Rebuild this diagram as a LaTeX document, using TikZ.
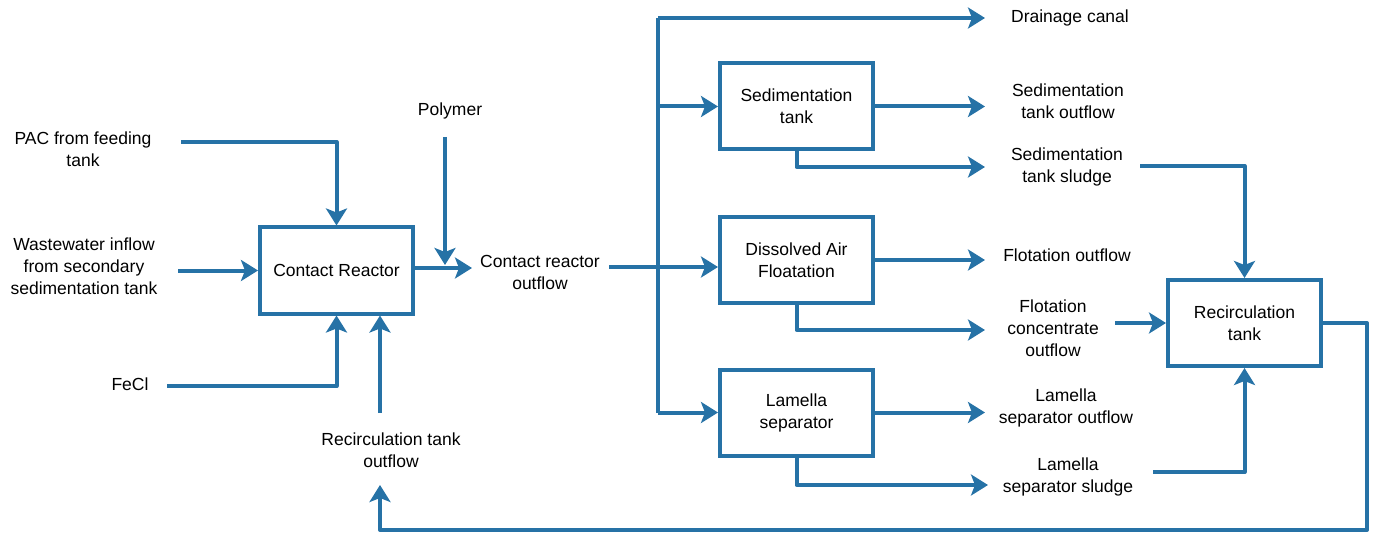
\documentclass[tikz,border=0pt]{standalone}
\usepackage{fontspec}
\setmainfont{Liberation Sans}
\usetikzlibrary{arrows.meta}
\definecolor{flow}{RGB}{38,114,166}
\begin{document}
\begin{tikzpicture}[x=1bp,y=-1bp,
  every node/.style={font=\fontsize{17.5bp}{22bp}\selectfont},
  lbl/.style={align=center,inner sep=0pt,text=black},
  procbox/.style={draw=flow,line width=4bp,fill=white,align=center,minimum width=153bp,minimum height=86bp,inner sep=2bp},
  pipe/.style={draw=flow,line width=4bp,line join=round},
  flowarrow/.style={pipe,-{Stealth[length=17bp,width=21bp,inset=4bp]}}
]
\useasboundingbox (0,0) rectangle (1375,535);

% boxes
\node[procbox] (cr) at (336.5,270.5) {Contact Reactor};
\node[procbox] (sed) at (796.5,106.5) {Sedimentation\\tank};
\node[procbox] (daf) at (796.5,260) {Dissolved Air\\Floatation};
\node[procbox] (lam) at (796.5,412.5) {Lamella\\separator};
\node[procbox] (rec) at (1244.5,323) {Recirculation\\tank};

% labels
\node[lbl] (pac) at (83,149) {PAC from feeding\\tank};
\node[lbl] (ww) at (84,266) {Wastewater inflow\\from secondary\\sedimentation tank};
\node[lbl] (fecl) at (130,384) {FeCl};
\node[lbl] (poly) at (450,111) {Polymer};
\node[lbl] (cro) at (540,272) {Contact reactor\\outflow};
\node[lbl] (rto) at (391,450) {Recirculation tank\\outflow};
\node[lbl] (drain) at (1070,18) {Drainage canal};
\node[lbl] (sto) at (1068,101) {Sedimentation\\tank outflow};
\node[lbl] (sts) at (1067,167) {Sedimentation\\tank sludge};
\node[lbl] (fo) at (1067,255) {Flotation outflow};
\node[lbl] (fco) at (1053,328) {Flotation\\concentrate\\outflow};
\node[lbl] (lso) at (1066,408) {Lamella\\separator outflow};
\node[lbl] (lss) at (1068,477) {Lamella\\separator sludge};

% coordinates for free ends
\coordinate (pacS) at (181,142);
\coordinate (wwS) at (178,270.5);
\coordinate (feS) at (167,386);
\coordinate (rtoS) at (380,413);
\coordinate (polyS) at (445,137);
\coordinate (polyE) at (445,265);
\coordinate (crE) at (472,268);
\coordinate (trS) at (609,267);
\coordinate (trTop) at (658,18);
\coordinate (trBot) at (658,412.5);
\coordinate (drainE) at (985,18);
\coordinate (stoE) at (985,106.5);
\coordinate (stsE) at (985,167);
\coordinate (foE) at (985,260);
\coordinate (fcoE) at (985,330);
\coordinate (lsoE) at (985,412.5);
\coordinate (lssE) at (988,485);
\coordinate (stsS) at (1140,166);
\coordinate (fcoS) at (1115,323);
\coordinate (lssS) at (1153,472);
\coordinate (recR) at (1367,323);
\coordinate (recB) at (1367,530);
\coordinate (retB) at (380,530);
\coordinate (rtoE) at (380,485);

% inputs to contact reactor
\draw[flowarrow] (pacS) -| (cr.north);
\draw[flowarrow] (wwS) -- (cr.west);
\draw[flowarrow] (feS) -| (cr.south);
\draw[flowarrow] (rtoS) -- (rtoS |- cr.south);
\draw[flowarrow] (polyS) -- (polyE);
\draw[flowarrow] (cr.east |- crE) -- (crE);

% distribution trunk
\draw[flowarrow] (trS) -- (trS -| daf.west);
\draw[pipe] (trBot) -- (trTop);
\draw[flowarrow] (trTop) -- (drainE);
\draw[flowarrow] (trTop |- sed.west) -- (sed.west);
\draw[flowarrow] (trBot) -- (lam.west);

% outputs of units
\draw[flowarrow] (sed.east) -- (stoE);
\draw[flowarrow] (sed.south) |- (stsE);
\draw[flowarrow] (daf.east) -- (foE);
\draw[flowarrow] (daf.south) |- (fcoE);
\draw[flowarrow] (lam.east) -- (lsoE);
\draw[flowarrow] (lam.south) |- (lssE);

% recirculation tank
\draw[flowarrow] (stsS) -| (rec.north);
\draw[flowarrow] (fcoS) -- (rec.west);
\draw[flowarrow] (lssS) -| (rec.south);
\draw[flowarrow] (rec.east) -- (recR) -- (recB) -- (retB) -- (rtoE);
\end{tikzpicture}
\end{document}
